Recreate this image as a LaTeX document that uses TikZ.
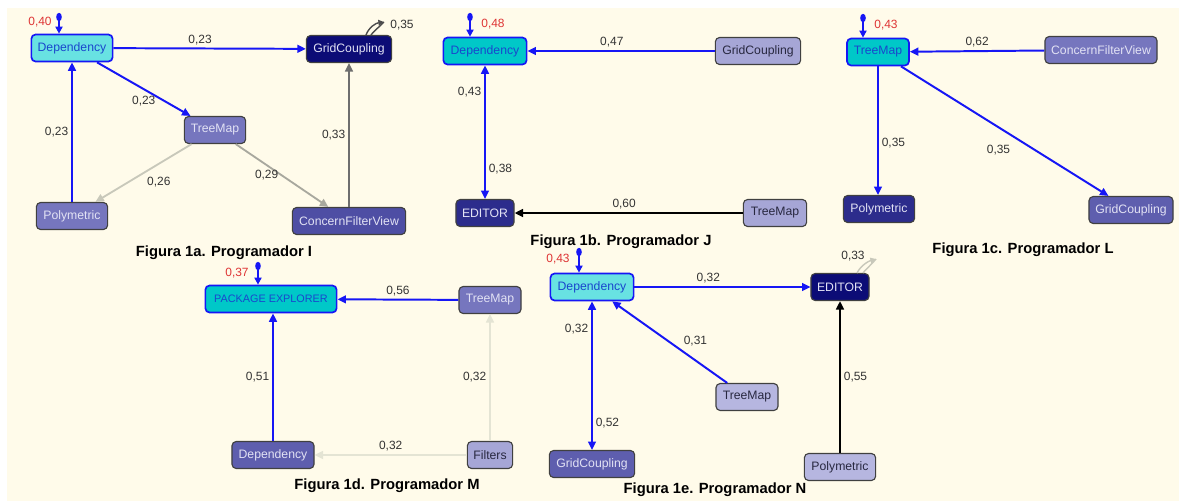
\documentclass[tikz,border=0pt]{standalone}
\usepackage{fontspec}
\setmainfont{Liberation Sans}
\usetikzlibrary{arrows.meta,positioning}
\definecolor{creambg}{RGB}{255,251,234}
\definecolor{edgeblue}{RGB}{22,22,245}
\definecolor{hottext}{RGB}{26,70,205}
\definecolor{cyanlight}{RGB}{104,226,226}
\definecolor{cyandark}{RGB}{0,200,200}
\definecolor{navy}{RGB}{12,12,118}
\definecolor{deepblue}{RGB}{44,44,140}
\definecolor{midblue}{RGB}{78,78,164}
\definecolor{slateblue}{RGB}{94,94,174}
\definecolor{lavender}{RGB}{118,118,190}
\definecolor{palelav}{RGB}{166,166,214}
\definecolor{paler}{RGB}{182,182,224}
\definecolor{lighttext}{RGB}{226,226,244}
\definecolor{darktext}{RGB}{40,40,64}
\definecolor{redval}{RGB}{222,52,52}
\definecolor{greyA}{RGB}{200,200,186}
\definecolor{greyB}{RGB}{168,168,158}
\definecolor{greyC}{RGB}{110,110,110}
\definecolor{greyD}{RGB}{228,228,212}

\begin{document}
\begin{tikzpicture}[
    x=0.025cm, y=-0.025cm,
    nbox/.style={
        rectangle, draw=black!75, line width=0.8pt, rounded corners=3pt,
        minimum height=0.675cm, inner xsep=1pt,
        font=\fontsize{8.7}{10}\selectfont
    },
    hotbox/.style={nbox, draw=edgeblue, line width=1.2pt, text=hottext},
    lightbox/.style={nbox, text=lighttext},
    palebox/.style={nbox, text=darktext},
    wlabel/.style={font=\fontsize{8.5}{10}\selectfont, text=black!80, inner sep=2pt},
    rlabel/.style={wlabel, text=redval},
    caption/.style={font=\fontsize{10.5}{12}\selectfont\bfseries},
    tip/.style={-{Triangle[length=6pt,width=5.5pt]}},
    bedge/.style={tip, line width=1.4pt, edgeblue},
    kedge/.style={tip, line width=1.5pt, black},
    gedge/.style={tip, line width=1.3pt, #1},
    loopmark/.style={-{Triangle[length=5pt,width=5pt]}, line width=1.2pt, edgeblue}
]

% Background
\fill[white] (0,0) rectangle (1179,501);
\fill[creambg] (7,8) rectangle (1179,501);
\useasboundingbox (0,0) rectangle (1179,501);

% Figura 1a
\node[hotbox, fill=cyanlight, minimum width=2.03cm] (depA) at (72,48) {Dependency};
\node[lightbox, fill=navy, minimum width=2.13cm] (gridA) at (349,49) {GridCoupling};
\node[lightbox, fill=lavender, minimum width=1.53cm] (treeA) at (215,130) {TreeMap};
\node[lightbox, fill=lavender, minimum width=1.78cm] (polyA) at (72,216) {Polymetric};
\node[lightbox, fill=midblue, minimum width=2.83cm] (cfvA) at (349,221) {ConcernFilterView};

\draw[bedge] (depA) -- (gridA) node[wlabel, pos=0.45, above] {0,23};
\draw[bedge] (depA) -- (treeA) node[wlabel, midway, below=2pt] {0,23};
\draw[bedge] (polyA) -- (depA) node[wlabel, midway, left] {0,23};
\draw[gedge=greyA] (treeA) -- (polyA) node[wlabel, midway, below right] {0,26};
\draw[gedge=greyB] (treeA) -- (cfvA) node[wlabel, midway, left] {0,29};
\draw[gedge=greyC] (cfvA) -- (gridA) node[wlabel, midway, left] {0,33};

\coordinate (lpA) at (59,17);
\fill[edgeblue] (lpA) ellipse [x radius=2pt, y radius=3pt];
\draw[loopmark] (lpA) -- (lpA |- depA.north);
\node[rlabel] (valA) at (40,22) {0,40};
\coordinate (gA1) at (366,35);
\coordinate (gA2) at (384,22);
\draw[line width=1pt, black!70, -{Triangle[length=4pt,width=4pt]}] (gA1) .. controls (369,27) and (376,23) .. (gA2);
\draw[line width=1pt, black!70] (gA2) .. controls (378,28) and (373,32) .. (371,35);
\node[wlabel] (loopA) at (402,25) {0,35};

\node[caption] (capA) at (224,253) {Figura 1a. Programador I};

% Figura 1b
\node[hotbox, fill=cyandark, minimum width=2.08cm] (depB) at (485,51) {Dependency};
\node[palebox, fill=palelav, minimum width=2.13cm] (gridB) at (758,51) {GridCoupling};
\node[lightbox, fill=deepblue, minimum width=1.45cm] (editB) at (485,213) {EDITOR};
\node[palebox, fill=palelav, minimum width=1.58cm] (treeB) at (775,213) {TreeMap};

\draw[bedge] (gridB) -- (depB) node[wlabel, pos=0.55, above] {0,47};
\draw[bedge, {Triangle[length=6pt,width=5.5pt]}-{Triangle[length=6pt,width=5.5pt]}] (depB) -- (editB)
    node[wlabel, pos=0.2, left] {0,43}
    node[wlabel, pos=0.78, right] {0,38};
\draw[kedge] (treeB) -- (editB) node[wlabel, pos=0.52, above] {0,60};

\coordinate (lpB) at (470,17);
\fill[edgeblue] (lpB) ellipse [x radius=2pt, y radius=3pt];
\draw[loopmark] (lpB) -- (lpB |- depB.north);
\node[rlabel] (valB) at (493,24) {0,48};

\node[caption] (capB) at (621,242) {Figura 1b. Programador J};

% Figura 1c
\node[hotbox, fill=cyandark, minimum width=1.55cm] (treeC) at (878,52) {TreeMap};
\node[lightbox, fill=lavender, minimum width=2.8cm] (cfvC) at (1101,50) {ConcernFilterView};
\node[lightbox, fill=deepblue, minimum width=1.78cm] (polyC) at (879,209) {Polymetric};
\node[lightbox, fill=slateblue, minimum width=2.1cm] (gridC) at (1131,210) {GridCoupling};

\draw[bedge] (cfvC) -- (treeC) node[wlabel, midway, above] {0,62};
\draw[bedge] (treeC) -- (treeC |- polyC.north) node[wlabel, pos=0.6, right] {0,35};
\draw[bedge] (treeC) -- (gridC) node[wlabel, pos=0.47, below=10pt] {0,35};

\coordinate (lpC) at (863,18);
\fill[edgeblue] (lpC) ellipse [x radius=2pt, y radius=3pt];
\draw[loopmark] (lpC) -- (lpC |- treeC.north);
\node[rlabel] (valC) at (886,25) {0,43};

\node[caption] (capC) at (1023,250) {Figura 1c. Programador L};

% Figura 1d
\node[hotbox, fill=cyandark, minimum width=3.28cm, font=\fontsize{7.7}{9}\selectfont] (pkgD) at (271,299) {PACKAGE EXPLORER};
\node[lightbox, fill=lavender, minimum width=1.55cm] (treeD) at (490,300) {TreeMap};
\node[lightbox, fill=slateblue, minimum width=2.05cm] (depD) at (273,455) {Dependency};
\node[palebox, fill=palelav, minimum width=1.13cm] (filtD) at (490,455) {Filters};

\draw[bedge] (treeD) -- (pkgD) node[wlabel, midway, above] {0,56};
\draw[bedge] (depD) -- (depD |- pkgD.south) node[wlabel, midway, left] {0,51};
\draw[gedge=greyD] (filtD) -- (treeD) node[wlabel, midway, left] {0,32};
\draw[gedge=greyD] (filtD) -- (depD) node[wlabel, midway, above] {0,32};

\coordinate (lpD) at (258,266);
\fill[edgeblue] (lpD) ellipse [x radius=2pt, y radius=3pt];
\draw[loopmark] (lpD) -- (lpD |- pkgD.north);
\node[rlabel] (valD) at (237,273) {0,37};

\node[caption] (capD) at (387,486) {Figura 1d. Programador M};

% Figura 1e
\node[hotbox, fill=cyanlight, minimum width=2.08cm] (depE) at (592,287) {Dependency};
\node[lightbox, fill=navy, minimum width=1.45cm] (editE) at (840,287) {EDITOR};
\node[palebox, fill=paler, minimum width=1.55cm] (treeE) at (747,397) {TreeMap};
\node[lightbox, fill=slateblue, minimum width=2.13cm] (gridE) at (592,464) {GridCoupling};
\node[palebox, fill=paler, minimum width=1.78cm] (polyE) at (840,467) {Polymetric};

\draw[bedge] (depE) -- (editE) node[wlabel, pos=0.42, above] {0,32};
\draw[bedge, {Triangle[length=6pt,width=5.5pt]}-{Triangle[length=6pt,width=5.5pt]}] (depE) -- (gridE)
    node[wlabel, pos=0.19, left] {0,32}
    node[wlabel, pos=0.82, right] {0,52};
\draw[bedge] (treeE) -- (depE) node[wlabel, pos=0.41, above right] {0,31};
\draw[kedge] (polyE) -- (editE) node[wlabel, midway, right] {0,55};

\coordinate (lpE) at (579,252);
\fill[edgeblue] (lpE) ellipse [x radius=2pt, y radius=3pt];
\draw[loopmark] (lpE) -- (lpE |- depE.north);
\node[rlabel] (valE) at (558,259) {0,43};
\coordinate (gE1) at (857,273);
\coordinate (gE2) at (876,259);
\draw[line width=1pt, greyA, -{Triangle[length=4pt,width=4pt]}] (gE1) .. controls (861,265) and (869,261) .. (gE2);
\draw[line width=1pt, greyA] (gE2) .. controls (870,266) and (865,270) .. (863,273);
\node[wlabel] (loopE) at (853,256) {0,33};

\node[caption] (capE) at (715,490) {Figura 1e. Programador N};

\end{tikzpicture}
\end{document}
